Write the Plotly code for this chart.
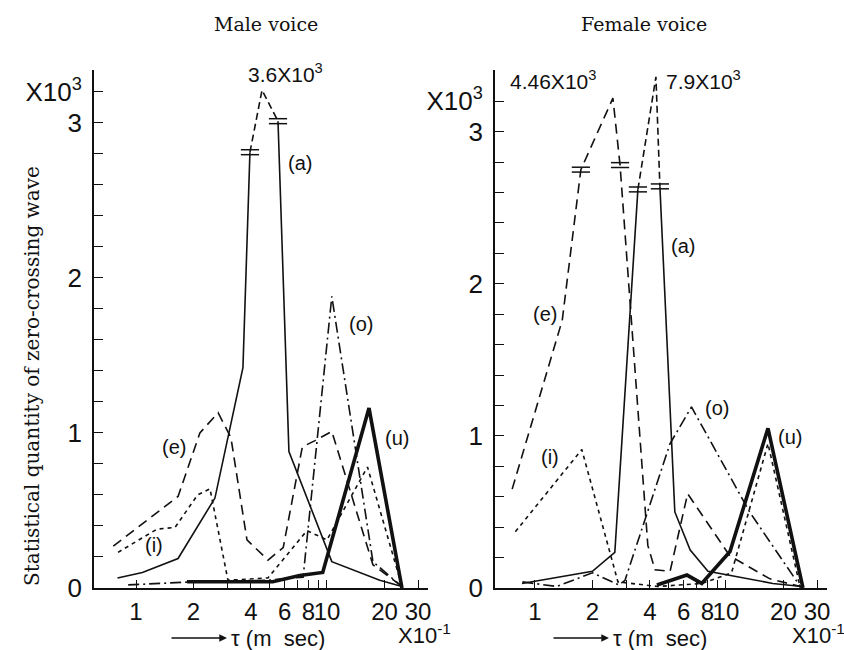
import math
import plotly.graph_objects as go

W, H = 844, 650


def px(p):
    return p / W


def py(p):
    return 1 - p / H


# ---------------- data (x in units of 1e-1 ms, y in units of 1e3) ----------------
# Male voice
male_a_x = [0.80, 1.08, 1.66, 2.59, 3.63, 3.95, 4.57, 5.54, 6.32, 10.6, 18.9, 24.7]
male_a_y = [0.065, 0.10, 0.19, 0.58, 1.42, 2.81, 3.21, 3.01, 0.88, 0.17, 0.05, 0.01]
male_a_breaks = [5, 7]

male_e_x = [0.76, 1.66, 2.16, 2.69, 3.14, 3.81, 4.91, 5.9, 7.43, 8.66, 10.6, 17.4, 24.1]
male_e_y = [0.27, 0.59, 1.0, 1.13, 0.97, 0.31, 0.18, 0.26, 0.91, 0.95, 1.01, 0.15, 0.02]

male_i_x = [0.805, 1.29, 1.6, 2.1, 2.44, 3.03, 4.91, 7.85, 10.0, 16.3, 24.7]
male_i_y = [0.23, 0.38, 0.39, 0.60, 0.64, 0.05, 0.065, 0.37, 0.31, 0.78, 0.01]

male_o_x = [0.91, 2.0, 4.91, 7.5, 10.6, 17.4, 24.1]
male_o_y = [0.02, 0.04, 0.05, 0.07, 1.88, 0.17, 0.02]

male_u_x = [1.85, 5.2, 7.2, 9.5, 16.6, 24.7]
male_u_y = [0.04, 0.04, 0.08, 0.10, 1.16, 0.0]

# Female voice
fem_a_x = [0.855, 2.0, 2.62, 3.46, 4.30, 4.51, 5.4, 6.5, 8.05, 17.6, 24.9]
fem_a_y = [0.03, 0.11, 0.235, 2.62, 3.36, 2.64, 0.50, 0.25, 0.11, 0.03, 0.01]
fem_a_breaks = [3, 5]

fem_e_x = [0.76, 1.39, 1.74, 2.56, 2.79, 3.9, 4.25, 5.1, 6.3, 10.5, 17.0, 24.5]
fem_e_y = [0.65, 1.76, 2.75, 3.22, 2.78, 0.28, 0.12, 0.11, 0.62, 0.21, 0.06, 0.01]
fem_e_breaks = [2, 4]

fem_i_x = [0.79, 1.76, 2.72, 4.4, 7.5, 10.7, 16.6, 24.5]
fem_i_y = [0.37, 0.91, 0.04, 0.01, 0.03, 0.10, 0.95, 0.0]

fem_o_x = [0.86, 1.3, 2.0, 2.75, 2.96, 5.1, 6.6, 13.3, 24.5]
fem_o_y = [0.04, 0.01, 0.10, 0.02, 0.05, 0.95, 1.19, 0.50, 0.01]

fem_u_x = [4.35, 6.25, 7.47, 10.5, 16.6, 25.3]
fem_u_y = [0.02, 0.085, 0.03, 0.24, 1.05, 0.0]

# ticks
x_tickvals = [1, 2, 4, 6, 8, 10, 20, 30]
x_ticktext = ["1", "2", "4", "6", "8", "10", "20", "30"]
x_minor_tickvals = [3, 5, 7, 9]
y_tickvals = [0, 1, 2, 3, 3.2]
y_ticktext = ["0", "1", "2", "3", "X10<sup>3</sup>"]

peak_labels_male = ["3.6X10<sup>3</sup>"]
peak_labels_female = ["4.46X10<sup>3</sup>", "7.9X10<sup>3</sup>"]

# ---------------- styles ----------------
BLACK = "#111111"
STY = {
    "a": dict(color=BLACK, width=1.6, dash="solid"),
    "e": dict(color=BLACK, width=1.6, dash="10px,6px"),
    "i": dict(color=BLACK, width=1.6, dash="4px,4px"),
    "o": dict(color=BLACK, width=1.6, dash="11px,4px,2px,4px"),
    "u": dict(color=BLACK, width=3.6, dash="solid"),
}
BREAK_DASH = dict(color=BLACK, width=1.6, dash="7px,4px")

fig = go.Figure()


def add_line(xs, ys, style, xa, ya):
    fig.add_trace(go.Scatter(x=xs, y=ys, mode="lines", line=style, xaxis=xa, yaxis=ya,
                             showlegend=False, cliponaxis=False, hoverinfo="skip"))


def add_break_marks(xs, ys, idxs, xa, ya):
    bx = [xs[k] for k in idxs]
    by = [ys[k] for k in idxs]
    for off in (-0.016, 0.016):
        fig.add_trace(go.Scatter(x=bx, y=[v + off for v in by], mode="markers",
                                 marker=dict(symbol="line-ew", size=13,
                                             line=dict(color=BLACK, width=1.5)),
                                 xaxis=xa, yaxis=ya, showlegend=False,
                                 cliponaxis=False, hoverinfo="skip"))


def add_broken(xs, ys, breaks, base, top, xa, ya):
    b0, b1 = breaks
    add_line(xs[:b0 + 1], ys[:b0 + 1], base, xa, ya)
    add_line(xs[b0:b1 + 1], ys[b0:b1 + 1], top, xa, ya)
    add_line(xs[b1:], ys[b1:], base, xa, ya)
    add_break_marks(xs, ys, breaks, xa, ya)


# Male
add_broken(male_a_x, male_a_y, male_a_breaks, STY["a"], BREAK_DASH, "x", "y")
add_line(male_e_x, male_e_y, STY["e"], "x", "y")
add_line(male_i_x, male_i_y, STY["i"], "x", "y")
add_line(male_o_x, male_o_y, STY["o"], "x", "y")
add_line(male_u_x, male_u_y, STY["u"], "x", "y")

# Female
add_broken(fem_a_x, fem_a_y, fem_a_breaks, STY["a"], BREAK_DASH, "x2", "y2")
add_line(fem_e_x, fem_e_y, STY["e"], "x2", "y2")
add_break_marks(fem_e_x, fem_e_y, fem_e_breaks, "x2", "y2")
add_line(fem_i_x, fem_i_y, STY["i"], "x2", "y2")
add_line(fem_o_x, fem_o_y, STY["o"], "x2", "y2")
add_line(fem_u_x, fem_u_y, STY["u"], "x2", "y2")

# ---------------- axes ----------------
TICKFONT_X = dict(family="Liberation Sans Narrow, Liberation Sans, sans-serif", size=24, color=BLACK)
TICKFONT_Y = dict(family="Liberation Sans Narrow, Liberation Sans, sans-serif", size=26, color=BLACK)


def xaxis(dom, rng):
    return dict(type="log", domain=dom, range=rng, tickmode="array",
                tickvals=x_tickvals, ticktext=x_ticktext, tickangle=0,
                ticks="inside", ticklen=8, tickwidth=1.3, tickcolor=BLACK,
                minor=dict(tickmode="array", tickvals=x_minor_tickvals, ticks="inside",
                           ticklen=8, tickwidth=1.3, tickcolor=BLACK, showgrid=False),
                showline=True, linecolor=BLACK, linewidth=1.6,
                showgrid=False, zeroline=False, tickfont=TICKFONT_X,
                automargin=False, ticklabelstandoff=1, fixedrange=True)


def yaxis(anchor, ymax):
    return dict(domain=[py(588), py(70)], range=[0, ymax], anchor=anchor,
                tickmode="array", tickvals=y_tickvals, ticktext=y_ticktext,
                ticks="inside", ticklen=9, tickwidth=1.3, tickcolor=BLACK,
                minor=dict(tick0=0, dtick=0.2, ticks="inside", ticklen=9,
                           tickwidth=1.3, tickcolor=BLACK, showgrid=False),
                showline=True, linecolor=BLACK, linewidth=1.8,
                showgrid=False, zeroline=False, tickfont=TICKFONT_Y,
                automargin=False, ticklabelstandoff=5, fixedrange=True)


fig.update_layout(
    width=W, height=H, template="none",
    paper_bgcolor="white", plot_bgcolor="rgba(0,0,0,0)",
    margin=dict(l=0, r=0, t=0, b=0),
    showlegend=False,
    xaxis=xaxis([px(94), px(428)], [-0.22, 1.529]) | dict(anchor="y"),
    yaxis=yaxis("x", 3.34),
    xaxis2=xaxis([px(495), px(827)], [-0.209, 1.529]) | dict(anchor="y2"),
    yaxis2=yaxis("x2", 3.405),
)

# ---------------- annotations ----------------
LBL = dict(family="Liberation Sans, sans-serif", size=20, color=BLACK)
PEAK = dict(family="Liberation Sans, sans-serif", size=21, color=BLACK)
SERIF = dict(family="DejaVu Serif, Liberation Serif, serif", size=19, color=BLACK)
SERIF_Y = dict(family="DejaVu Serif, Liberation Serif, serif", size=20, color=BLACK)
AX = dict(family="Liberation Sans, sans-serif", size=22, color=BLACK)

ann = []


def data_label(text, x, y, xr, yr, font=LBL):
    ann.append(dict(text=text, x=math.log10(x), y=y, xref=xr, yref=yr,
                    showarrow=False, font=font, xanchor="center", yanchor="middle"))


# Male curve labels
data_label("(a)", 7.2, 2.74, "x", "y")
data_label("(o)", 15.1, 1.70, "x", "y")
data_label("(e)", 1.58, 0.91, "x", "y")
data_label("(i)", 1.24, 0.28, "x", "y")
data_label("(u)", 23.2, 0.97, "x", "y")
data_label(peak_labels_male[0], 6.05, 3.32, "x", "y", PEAK)

# Female curve labels
data_label("(a)", 5.95, 2.25, "x2", "y2")
data_label("(e)", 1.13, 1.80, "x2", "y2")
data_label("(i)", 1.2, 0.86, "x2", "y2")
data_label("(o)", 8.97, 1.18, "x2", "y2")
data_label("(u)", 21.6, 0.99, "x2", "y2")
data_label(peak_labels_female[0], 1.24, 3.34, "x2", "y2", PEAK)
data_label(peak_labels_female[1], 7.6, 3.34, "x2", "y2", PEAK)

# Titles
for t, cx in (("Male voice", 266), ("Female voice", 644)):
    ann.append(dict(text=t, x=px(cx), y=py(24), xref="paper", yref="paper",
                    showarrow=False, font=SERIF, xanchor="center", yanchor="middle"))

ann.append(dict(text="Statistical quantity of zero-crossing wave", x=px(32), y=py(376),
                xref="paper", yref="paper", showarrow=False, textangle=-90,
                font=SERIF_Y, xanchor="center", yanchor="middle"))

# x-axis captions with arrows
for (a0, a1, tx, ex) in ((170, 227, 229, 396), (552, 609, 611, 790)):
    ann.append(dict(text="", x=px(a1), y=py(638), xref="paper", yref="paper",
                    ax=a0 - a1, ay=0, showarrow=True, arrowhead=2, arrowsize=1.1,
                    arrowwidth=1.4, arrowcolor=BLACK))
    ann.append(dict(text="\u03c4\u00a0(m\u00a0\u00a0sec)", x=px(tx), y=py(638), xref="paper",
                    yref="paper", showarrow=False, font=AX, xanchor="left", yanchor="middle"))
    ann.append(dict(text="X10<sup>-1</sup>", x=px(ex), y=py(634), xref="paper",
                    yref="paper", showarrow=False, font=AX, xanchor="left", yanchor="middle"))

fig.update_layout(annotations=ann)

# remove the default page margin so the 844x650 figure fills the window exactly
fig.write_html("out.html", config={"displayModeBar": False},
               post_script="document.body.style.margin='0';document.body.style.overflow='hidden';")
